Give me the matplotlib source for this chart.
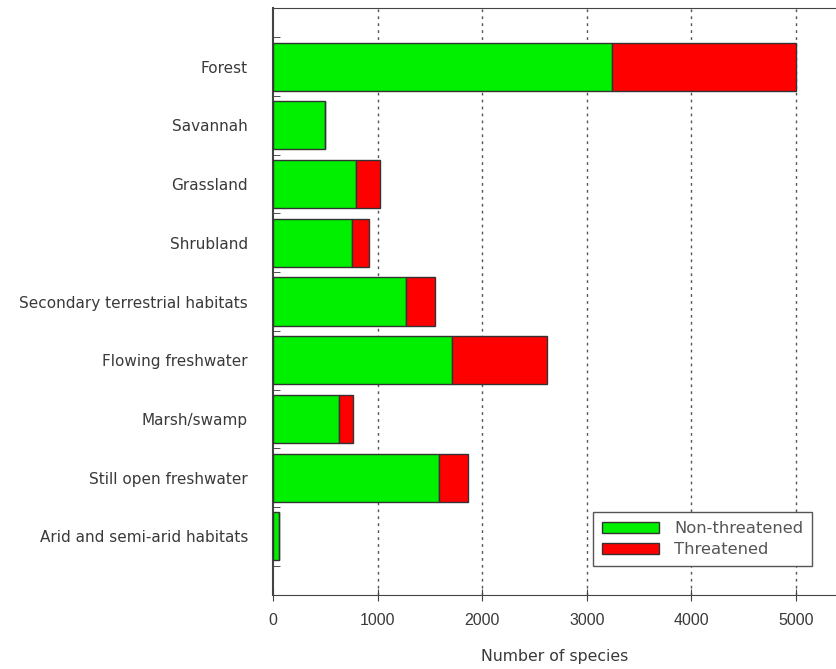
import matplotlib
matplotlib.use('Agg')
import matplotlib.pyplot as plt
import numpy as np

plt.rcParams['font.family'] = ['DejaVu Sans']

habitats = ['Forest', 'Savannah', 'Grassland', 'Shrubland',
            'Secondary terrestrial habitats', 'Flowing freshwater',
            'Marsh/swamp', 'Still open freshwater', 'Arid and semi-arid habitats']
non_threatened = [3240, 500, 795, 755, 1272, 1710, 635, 1585, 58]
threatened = [1760, 0, 230, 165, 272, 910, 125, 280, 0]

y = np.arange(len(habitats))

fig = plt.figure(figsize=(8.37, 6.69), dpi=100)
ax = fig.add_axes([0.3262, 0.1106, 0.6738, 0.8774])

ax.barh(y, non_threatened, height=0.82, color='#00f000', edgecolor='#333333',
        linewidth=1, label='Non-threatened', zorder=3)
ax.barh(y, threatened, left=non_threatened, height=0.82, color='#ff0000',
        edgecolor='#333333', linewidth=1, label='Threatened', zorder=3)

ax.set_xlim(0, 5392)
ax.set_ylim(len(habitats), -1)
ax.set_xticks([0, 1000, 2000, 3000, 4000, 5000])
ax.set_xticklabels(['0', '1000', '2000', '3000', '4000', '5000'],
                   family='Liberation Sans')
ax.set_yticks(y)
ax.set_yticklabels(habitats)
ax.set_yticks(np.arange(-1, len(habitats)) + 0.5, minor=True)

# dotted grid lines
for xv in [1000, 2000, 3000, 4000, 5000]:
    ax.axvline(xv, color='#555555', linestyle=(0, (2, 3)), linewidth=1, zorder=1)

ax.spines['right'].set_visible(False)
for s in ['top', 'bottom', 'left']:
    ax.spines[s].set_color('#444444')
ax.spines['left'].set_linewidth(1.5)

ax.tick_params(axis='y', which='major', length=0, pad=18, labelsize=11, labelcolor='#3a3a3a')
ax.tick_params(axis='y', which='minor', direction='in', length=5, color='#333333')
ax.tick_params(axis='x', direction='inout', length=8, labelsize=11.5, labelcolor='#3a3a3a',
               color='#444444', pad=9)
ax.set_xlabel('Number of species', fontsize=11.3, color='#3a3a3a', labelpad=15)

leg = ax.legend(loc='lower right', bbox_to_anchor=(0.956, 0.049), fancybox=False,
                edgecolor='#555555', framealpha=1, fontsize=11.8, handlelength=3.5,
                handleheight=0.65, handletextpad=0.9, borderpad=0.55, labelspacing=0.35,
                borderaxespad=0)
for t in leg.get_texts():
    t.set_color('#555555')

fig.savefig('out.png', dpi=100)
